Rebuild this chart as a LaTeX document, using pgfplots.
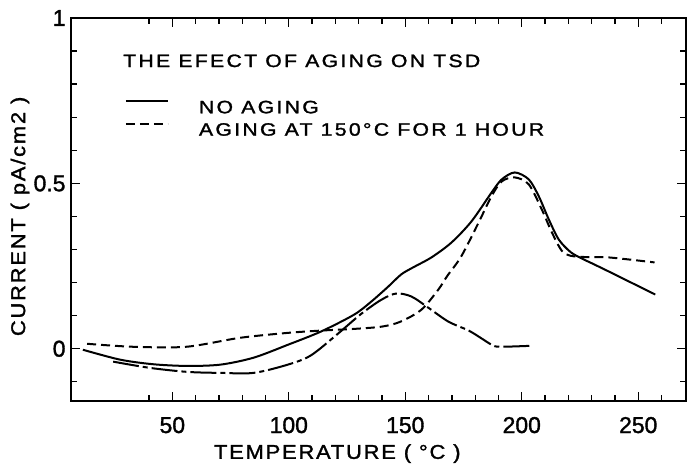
\documentclass[border=0pt]{standalone}
\usepackage{pgfplots}
\pgfplotsset{compat=1.18}
\usepackage{fontspec}
\setmainfont{Liberation Sans}[FakeBold=1.5]
\newfontfamily\lsfont{Liberation Sans}[LetterSpace=13, FakeStretch=1.18, FakeBold=1.5]
\newfontfamily\lbfont{Liberation Sans}[LetterSpace=9, FakeStretch=1.1, FakeBold=1.5]
\newfontfamily\tkfont{Liberation Sans}[FakeBold=1.5]
\usetikzlibrary{calc}
\begin{document}
\begin{tikzpicture}
\begin{axis}[
 scale only axis, width=615bp, height=383bp,
 xmin=6.5, xmax=270.5, ymin=-0.158, ymax=1.0,
 axis line style={line width=1.6bp},
 xtick={50,100,150,200,250},
 minor xtick={40,60,70,80,90,110,120,130,140,160,170,180,190,210,220,230,240,260},
 ytick={0,0.5,1}, yticklabels={0,0.5,1},
 minor ytick={-0.1,0.1,0.2,0.3,0.4,0.6,0.7,0.8,0.9},
 major tick length=9bp, minor tick length=6bp,
 every tick/.style={line width=1.3bp, black},
 tick label style={font=\tkfont\fontsize{23}{25}\selectfont},
 xticklabel style={anchor=base, yshift=-32bp},
 yticklabel style={xshift=-2bp},
 /pgf/number format/assume math mode=true,
 xlabel={TEMPERATURE ( °C )}, ylabel={CURRENT ( pA/cm2 )},
 label style={font=\lbfont\fontsize{20}{22}\selectfont},
 xlabel style={at={(axis description cs:0.433,-0.151)}, anchor=base},
 ylabel style={at={(axis description cs:-0.083,0.482)}, anchor=center},
 legend style={draw=none, fill=none, inner sep=0pt, outer sep=0pt,
   at={(axis description cs:0.0878,0.785)}, anchor=north west,
   font=\lsfont\fontsize{18}{20}\selectfont, row sep=8bp, nodes={inner sep=0pt}},
 legend cell align=left,
 legend image code/.code={\draw[#1] (0bp,6.4bp) -- (42bp,6.4bp); \path (72bp,6.4bp);},
]
\addplot[black, line width=2bp, smooth, tension=0.5] coordinates {
(11.6,-0.003)(27.6,-0.033)(42,-0.047)(56.5,-0.052)(70.7,-0.048)(84.9,-0.027)(99.6,0.012)(113.8,0.052)(128,0.103)(135.3,0.142)(142.7,0.188)(148.3,0.225)(153.9,0.248)(161.2,0.276)(169.8,0.321)(178.4,0.385)(187.1,0.473)(191.4,0.512)(197,0.533)(203,0.512)(207.3,0.461)(211.6,0.391)(215.9,0.330)(221,0.292)(226,0.272)(230.2,0.258)(237.5,0.233)(246.1,0.203)(257.3,0.164)};
\addlegendentry{NO AGING}
\addplot[black, line width=2bp, smooth, tension=0.5, dash pattern=on 9bp off 5bp] coordinates {
(13.4,0.015)(33,0.006)(56,0.006)(79,0.033)(99.6,0.048)(114,0.055)(128,0.060)(140,0.067)(148,0.082)(156.9,0.118)(164.2,0.179)(168,0.22)(174,0.279)(181.5,0.382)(187,0.461)(191.4,0.506)(197,0.518)(203,0.497)(208.6,0.421)(212.9,0.352)(217.2,0.296)(221,0.281)(228,0.277)(237.5,0.276)(257,0.261)};
\addlegendentry{AGING AT 150°C FOR 1 HOUR}
\addplot[black, line width=2bp, smooth, tension=0.5, dash pattern=on 26bp off 4bp on 5bp off 4bp, forget plot] coordinates {
(24.6,-0.039)(40.5,-0.058)(56.5,-0.070)(70.7,-0.073)(84.9,-0.073)(99.6,-0.048)(109.5,-0.02)(121,0.045)(131,0.105)(139.7,0.148)(146.1,0.167)(152.6,0.158)(159.9,0.124)(168.5,0.082)(177.2,0.055)(183,0.03)(187.1,0.012)(190.5,0.006)(204.3,0.009)};
\node[anchor=base west, inner sep=0pt, font=\lsfont\fontsize{18}{20}\selectfont] at (axis description cs:0.0846,0.872) {THE EFECT OF AGING ON TSD};
\end{axis}
\pgfresetboundingbox
\path ($(current axis.south west)+(-71bp,-64bp)$) rectangle ($(current axis.north east)+(1bp,18bp)$);
\end{tikzpicture}
\end{document}
